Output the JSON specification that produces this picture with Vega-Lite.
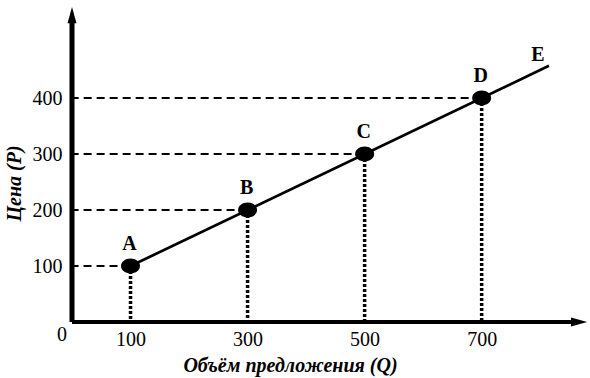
{
  "$schema": "https://vega.github.io/schema/vega-lite/v6.json",
  "width": 515,
  "height": 315,
  "autosize": {"type": "none"},
  "padding": {"left": 72, "top": 7, "right": 3, "bottom": 56},
  "background": "white",
  "config": {"view": {"stroke": null}},
  "datasets": {
    "pts": [
      {"q": 100, "p": 100, "label": "A"},
      {"q": 300, "p": 200, "label": "B"},
      {"q": 500, "p": 300, "label": "C"},
      {"q": 700, "p": 400, "label": "D"}
    ],
    "line": [
      {"q": 100, "p": 100},
      {"q": 815, "p": 457.5, "label": "E"}
    ],
    "axes": [
      {"dir": "v", "q": 0, "p": 0, "q2": 0, "p2": 540},
      {"dir": "h", "q": 0, "p": 0, "q2": 860, "p2": 0}
    ],
    "arrows": [
      {"q": 0, "p": 546.4, "dir": "up"},
      {"q": 865, "p": 0, "dir": "right"}
    ],
    "origin": [{"q": 0, "p": 0, "label": "0"}]
  },
  "layer": [
    {
      "data": {"name": "pts"},
      "mark": {"type": "rule", "strokeDash": [8, 5], "strokeWidth": 2, "color": "black"},
      "encoding": {
        "x": {"field": "q", "type": "quantitative", "scale": {"domain": [0, 880], "nice": false}, "axis": {
          "values": [100, 300, 500, 700], "ticks": false, "grid": false, "domain": false,
          "labelFont": "Liberation Serif", "labelFontSize": 20, "labelColor": "black", "labelPadding": 7,
          "title": "Объём предложения (Q)", "titleFont": "Liberation Serif", "titleFontSize": 20,
          "titleFontWeight": "bold", "titleFontStyle": "italic", "titleColor": "black",
          "titleX": 218, "titleY": 43, "titleAlign": "center", "titleBaseline": "middle"
        }},
        "x2": {"datum": 0},
        "y": {"field": "p", "type": "quantitative", "scale": {"domain": [0, 562.5], "nice": false}, "axis": {
          "values": [100, 200, 300, 400], "ticks": false, "grid": false, "domain": false,
          "labelFont": "Liberation Serif", "labelFontSize": 20, "labelColor": "black", "labelPadding": 10,
          "title": "Цена (P)", "titleFont": "Liberation Serif", "titleFontSize": 20,
          "titleFontWeight": "bold", "titleFontStyle": "italic", "titleColor": "black",
          "titleX": -58, "titleY": 176, "titleAlign": "center", "titleBaseline": "middle", "titleAngle": -90
        }}
      }
    },
    {
      "data": {"name": "pts"},
      "mark": {"type": "rule", "strokeDash": [3, 2], "strokeWidth": 3.5, "color": "black"},
      "encoding": {
        "x": {"field": "q", "type": "quantitative"},
        "y": {"field": "p", "type": "quantitative"},
        "y2": {"datum": 0}
      }
    },
    {
      "data": {"name": "axes"},
      "transform": [{"filter": "datum.dir == 'v'"}],
      "mark": {"type": "rule", "strokeWidth": 5, "color": "black"},
      "encoding": {
        "x": {"field": "q", "type": "quantitative"},
        "y": {"field": "p", "type": "quantitative"},
        "y2": {"field": "p2"}
      }
    },
    {
      "data": {"name": "axes"},
      "transform": [{"filter": "datum.dir == 'h'"}],
      "mark": {"type": "rule", "strokeWidth": 4, "color": "black"},
      "encoding": {
        "x": {"field": "q", "type": "quantitative"},
        "x2": {"field": "q2"},
        "y": {"field": "p", "type": "quantitative"}
      }
    },
    {
      "data": {"name": "line"},
      "mark": {"type": "line", "color": "black", "strokeWidth": 2.7},
      "encoding": {
        "x": {"field": "q", "type": "quantitative"},
        "y": {"field": "p", "type": "quantitative"}
      }
    },
    {
      "data": {"name": "pts"},
      "mark": {"type": "point", "filled": true, "color": "black", "opacity": 1,
        "shape": "M-1,0A1,0.78,0,1,0,1,0A1,0.78,0,1,0,-1,0Z", "size": 361},
      "encoding": {
        "x": {"field": "q", "type": "quantitative"},
        "y": {"field": "p", "type": "quantitative"}
      }
    },
    {
      "data": {"name": "pts"},
      "mark": {"type": "text", "font": "Liberation Serif", "fontSize": 20, "fontWeight": "bold", "color": "black", "dy": -22, "dx": -1},
      "encoding": {
        "x": {"field": "q", "type": "quantitative"},
        "y": {"field": "p", "type": "quantitative"},
        "text": {"field": "label"}
      }
    },
    {
      "data": {"name": "line"},
      "transform": [{"filter": "datum.label == 'E'"}],
      "mark": {"type": "text", "font": "Liberation Serif", "fontSize": 20, "fontWeight": "bold", "color": "black", "dx": -11, "dy": -11},
      "encoding": {
        "x": {"field": "q", "type": "quantitative"},
        "y": {"field": "p", "type": "quantitative"},
        "text": {"field": "label"}
      }
    },
    {
      "data": {"name": "origin"},
      "mark": {"type": "text", "font": "Liberation Serif", "fontSize": 20, "color": "black", "dx": -10, "dy": 13},
      "encoding": {
        "x": {"field": "q", "type": "quantitative"},
        "y": {"field": "p", "type": "quantitative"},
        "text": {"field": "label"}
      }
    },
    {
      "data": {"name": "arrows"},
      "transform": [{"filter": "datum.dir == 'up'"}],
      "mark": {"type": "point", "filled": true, "color": "black", "opacity": 1,
        "shape": "M0,-1L0.5,0.8L-0.5,0.8Z", "size": 324},
      "encoding": {
        "x": {"field": "q", "type": "quantitative"},
        "y": {"field": "p", "type": "quantitative"}
      }
    },
    {
      "data": {"name": "arrows"},
      "transform": [{"filter": "datum.dir == 'right'"}],
      "mark": {"type": "point", "filled": true, "color": "black", "opacity": 1,
        "shape": "M1,0L-0.8,0.5L-0.8,-0.5Z", "size": 324},
      "encoding": {
        "x": {"field": "q", "type": "quantitative"},
        "y": {"field": "p", "type": "quantitative"}
      }
    }
  ]
}
